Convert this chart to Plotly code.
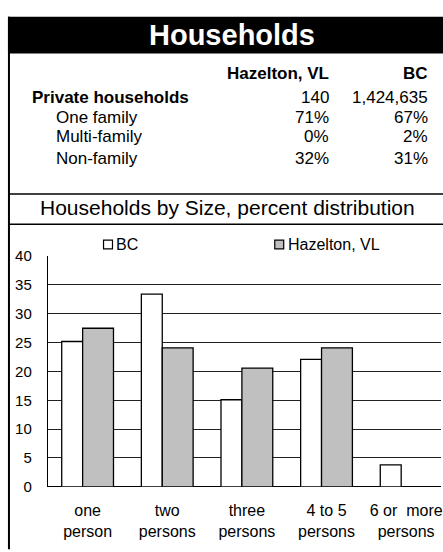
import plotly.graph_objects as go

# ---------------- data ----------------
categories = ["one<br>person", "two<br>persons", "three<br>persons", "4 to 5<br>persons", "6 or  more<br>persons"]
bc_values = [25.2, 33.4, 15.1, 22.1, 3.8]
hazelton_values = [27.5, 24.1, 20.6, 24.1, 0.0]
series_names = ["BC", "Hazelton, VL"]

table_columns = ["Hazelton, VL", "BC"]
table_rows = ["Private households", "One family", "Multi-family", "Non-family"]
table_hazelton = ["140", "71%", "0%", "32%"]
table_bc = ["1,424,635", "67%", "2%", "31%"]

main_title = "Households"
chart_title = "Households by Size, percent distribution"
y_ticks = [0, 5, 10, 15, 20, 25, 30, 35, 40]

# ---------------- geometry helpers (pixels -> paper) ----------------
W, H = 443, 552
def X(px):
    return px / W
def Y(py):
    return 1 - py / H

FONT = "Liberation Sans, Arial, sans-serif"

fig = go.Figure()
fig.add_trace(go.Bar(
    x=categories, y=bc_values, name=series_names[0],
    marker=dict(color="white", line=dict(color="black", width=1.3)),
    offset=-0.325, width=0.2625, showlegend=False,
))
fig.add_trace(go.Bar(
    x=categories, y=hazelton_values, name=series_names[1],
    marker=dict(color="#c0c0c0", line=dict(color="black", width=1.3)),
    offset=-0.0625, width=0.3875, showlegend=False,
))

fig.update_layout(
    width=W, height=H,
    margin=dict(l=0, r=0, t=0, b=0),
    paper_bgcolor="white", plot_bgcolor="white",
    barmode="overlay",
    font=dict(family=FONT, color="black"),
    xaxis=dict(
        domain=[X(48), 1.0], type="category",
        categoryorder="array", categoryarray=categories,
        range=[-0.5, -0.5 + (W - 48) / 80.0],
        showgrid=False, showline=False, zeroline=False,
        ticks="", tickfont=dict(size=16, family=FONT, color="black"),
        ticklabelstandoff=12,
    ),
    yaxis=dict(
        domain=[Y(493), Y(255)], range=[0, 40],
        tickvals=y_ticks, ticks="",
        showgrid=True, gridcolor="#222222", gridwidth=1,
        zeroline=True, zerolinecolor="black", zerolinewidth=1,
        showline=True, linecolor="black", linewidth=1,
        tickfont=dict(size=15, family=FONT, color="black"),
        ticklabelstandoff=12,
    ),
)

shapes = []
# black header bar
shapes.append(dict(type="rect", xref="paper", yref="paper", x0=X(8), x1=1.02, y0=Y(46), y1=Y(8),
                   fillcolor="black", line=dict(width=0), layer="below"))
# left border
shapes.append(dict(type="line", xref="paper", yref="paper", x0=X(9), x1=X(9), y0=Y(8), y1=-0.01,
                   line=dict(color="black", width=2)))
# horizontal separators
for py in (191, 222):
    shapes.append(dict(type="line", xref="paper", yref="paper", x0=X(8), x1=1.02, y0=Y(py), y1=Y(py),
                       line=dict(color="black", width=1.5)))
# legend swatches
shapes.append(dict(type="rect", xref="paper", yref="paper", x0=X(104), x1=X(113), y0=Y(247.5), y1=Y(238.5),
                   fillcolor="white", line=dict(color="black", width=1.2)))
shapes.append(dict(type="rect", xref="paper", yref="paper", x0=X(276), x1=X(285), y0=Y(247.5), y1=Y(238.5),
                   fillcolor="#c0c0c0", line=dict(color="black", width=1.2)))
fig.update_layout(shapes=shapes)

ann = []
def text(s, px, py, size, bold=False, xanchor="left", color="black"):
    ann.append(dict(text=("<b>%s</b>" % s) if bold else s, xref="paper", yref="paper",
                    x=X(px), y=Y(py), xanchor=xanchor, yanchor="middle", showarrow=False,
                    font=dict(family=FONT, size=size, color=color)))

text(main_title, 233, 27, 29, bold=True, xanchor="center", color="white")
# table
text(table_columns[0], 333, 67, 17, bold=True, xanchor="right")
text(table_columns[1], 432, 67, 17, bold=True, xanchor="right")
row_y = [91, 112, 132, 154]
for i, (lab, hz, bc) in enumerate(zip(table_rows, table_hazelton, table_bc)):
    text(lab, 30 if i == 0 else 54, row_y[i], 17, bold=(i == 0))
    text(hz, 333, row_y[i], 17, xanchor="right")
    text(bc, 432, row_y[i], 17, xanchor="right")
# chart title
text(chart_title, 229, 205, 21, xanchor="center")
# legend labels
text(series_names[0], 115, 243, 16)
text(series_names[1], 287, 243, 16)

fig.update_layout(annotations=ann)
fig.write_html(
    "out.html",
    config={"displayModeBar": False},
    post_script="document.body.style.margin='0';document.body.style.overflow='hidden';",
)
